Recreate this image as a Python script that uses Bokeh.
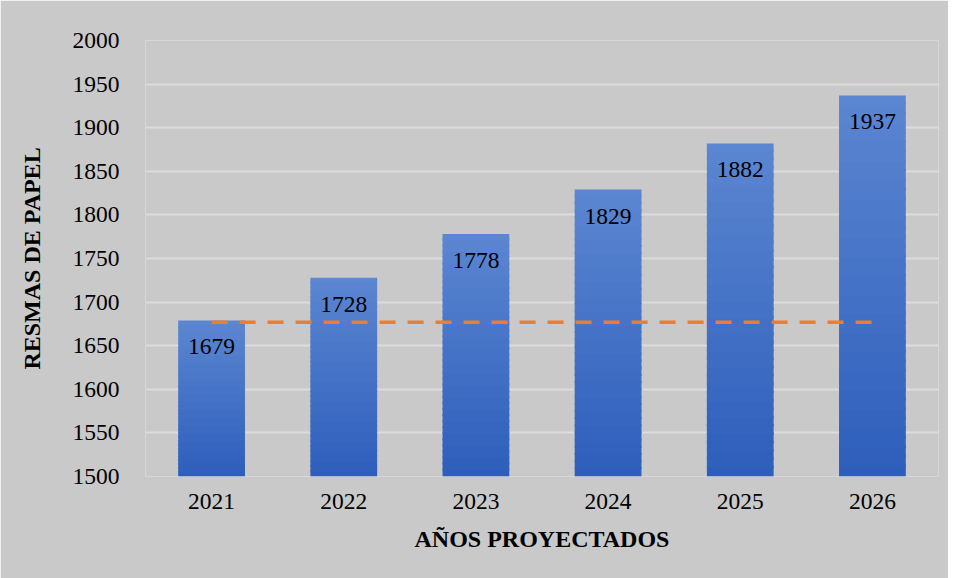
from bokeh.plotting import figure
from bokeh.models import Range1d, ColumnDataSource, FixedTicker
from bokeh.embed import file_html
from bokeh.resources import INLINE
from bokeh.core.properties import value

years = ["2021", "2022", "2023", "2024", "2025", "2026"]
resmas = [1679, 1728, 1778, 1829, 1882, 1937]
reference_level = 1677
y_ticks = [1500, 1550, 1600, 1650, 1700, 1750, 1800, 1850, 1900, 1950, 2000]

FONT = "Liberation Serif"
BG = "#C9C9C9"

p = figure(x_range=years, y_range=Range1d(1500, 2000), width=948, height=578,
           output_backend="svg", toolbar_location=None,
           background_fill_color=BG, border_fill_color=BG,
           min_border_left=145, min_border_right=10, min_border_top=40, min_border_bottom=102)
p.outline_line_color = None

# gradient bars built from slices
top_rgb = (92, 134, 209)
bot_rgb = (45, 94, 187)
n = 40
xs, bots, tops, cols = [], [], [], []
for yr, v in zip(years, resmas):
    for i in range(n):
        b = 1500 + (v - 1500) * i / n
        t = 1500 + (v - 1500) * (i + 1) / n
        f = (i + 0.5) / n
        c = tuple(int(round(bot_rgb[k] + (top_rgb[k] - bot_rgb[k]) * f)) for k in range(3))
        xs.append(yr); bots.append(b); tops.append(t + (v - 1500) / n * 0.3 if i < n - 1 else t)
        cols.append("#%02x%02x%02x" % c)
p.vbar(x=xs, bottom=bots, top=tops, width=0.505, fill_color=cols, line_color=None)

# reference dashed line
p.line(x=[years[0], years[-1]], y=[reference_level, reference_level], line_color="#ED7D31",
       line_width=3.5, line_dash="16 12")

src = ColumnDataSource(dict(x=years, y=resmas, t=[str(v) for v in resmas]))
p.text(x="x", y="y", text="t", source=src, text_align="center", text_baseline="top",
       y_offset=19, text_font=value(FONT), text_font_size="23.5px", text_color="#000000")

p.xgrid.grid_line_color = None
p.ygrid.grid_line_color = "#DCDCDC"
p.ygrid.grid_line_width = 2
p.ygrid.ticker = FixedTicker(ticks=y_ticks)
p.yaxis.ticker = FixedTicker(ticks=y_ticks)

for ax in (p.xaxis[0], p.yaxis[0]):
    ax.axis_line_color = None
    ax.major_tick_line_color = None
    ax.minor_tick_line_color = None
    ax.major_label_text_font = FONT
    ax.major_label_text_font_size = "23.5px"
    ax.major_label_text_color = "#000000"
    ax.axis_label_text_font = FONT
    ax.axis_label_text_font_size = "24px"
    ax.axis_label_text_font_style = "bold"
    ax.axis_label_text_color = "#000000"

p.yaxis.major_label_standoff = 20
p.xaxis.major_label_standoff = 11
p.xaxis.axis_label = "AÑOS PROYECTADOS"
p.yaxis.axis_label = "RESMAS DE PAPEL"
p.xaxis.axis_label_standoff = 14
p.yaxis.axis_label_standoff = 25

open("out.html", "w").write(file_html(p, INLINE))
